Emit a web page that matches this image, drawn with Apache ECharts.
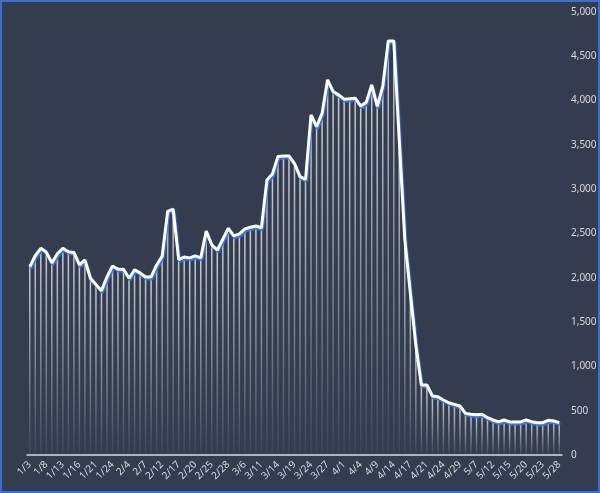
<!DOCTYPE html>
<html>
<head>
<meta charset="utf-8">
<script src="https://cdn.jsdelivr.net/npm/echarts@6/dist/echarts.min.js"></script>
<style>
html,body{margin:0;padding:0;background:#333d4f;}
#chart{width:600px;height:493px;}
</style>
</head>
<body>
<div id="chart"></div>
<script>
var categories = ['1/3','1/6','1/7','1/8','1/9','1/10','1/13','1/14','1/15','1/16','1/17','1/20','1/21','1/22','1/23','1/24','1/31','2/3','2/4','2/5','2/6','2/7','2/10','2/11','2/12','2/13','2/14','2/17','2/18','2/19','2/20','2/21','2/24','2/25','2/26','2/27','2/28','3/2','3/4','3/6','3/9','3/10','3/11','3/12','3/13','3/14','3/17','3/18','3/19','3/20','3/23','3/24','3/25','3/26','3/27','3/30','3/31','4/1','4/2','4/3','4/4','4/7','4/8','4/9','4/10','4/13','4/14','4/15','4/16','4/17','4/18','4/20','4/21','4/22','4/23','4/24','4/27','4/28','4/29','4/30','5/6','5/7','5/8','5/11','5/12','5/13','5/14','5/15','5/18','5/19','5/20','5/21','5/22','5/23','5/26','5/27','5/28'];

var values = [2125,2250,2333,2290,2168,2272,2333,2294,2286,2145,2202,1995,1925,1855,2010,2134,2096,2096,1995,2089,2055,2010,2010,2145,2243,2750,2775,2205,2235,2225,2247,2225,2529,2371,2314,2435,2559,2473,2495,2552,2571,2585,2565,3105,3172,3370,3376,3376,3290,3142,3112,3838,3706,3857,4234,4102,4065,4016,4020,4027,3940,3980,4178,3935,4160,4674,4674,3550,2430,1826,1240,790,790,666,658,621,590,572,553,470,459,455,459,421,395,373,395,373,373,373,395,376,365,365,392,384,365];

var yMin = 0, yMax = 5000, yStep = 500;

var chart = echarts.init(document.getElementById('chart'), null, {renderer:'canvas'});
chart.setOption({
  backgroundColor: '#333d4f',
  animation: false,
  graphic: [{
    type: 'rect', silent: true, z: 100,
    shape: {x: 1, y: 1, width: 598, height: 491},
    style: {fill: 'none', stroke: '#3a6fd6', lineWidth: 2}
  }],
  grid: {left: 27, right: 38, top: 12, bottom: 38, containLabel: false},
  xAxis: {
    type: 'category',
    data: categories,
    boundaryGap: true,
    axisLine: {lineStyle: {color: '#d9d9d9', width: 1.5}},
    axisTick: {show: false},
    axisLabel: {
      interval: 2, rotate: 45, color: '#d9d9d9', fontSize: 10,
      fontFamily: 'Noto Sans', margin: 8
    },
    splitLine: {show: false}
  },
  yAxis: {
    type: 'value',
    position: 'right',
    min: yMin, max: yMax, interval: yStep,
    axisLine: {show: false},
    axisTick: {show: false},
    splitLine: {show: false},
    axisLabel: {
      color: '#d9d9d9', fontSize: 10, fontFamily: 'Noto Sans', margin: 9,
      formatter: function (v) { return v.toLocaleString('en-US'); }
    }
  },
  series: [{
    type: 'bar',
    data: values,
    barWidth: 1.5,
    silent: true,
    itemStyle: {
      color: new echarts.graphic.LinearGradient(0, 0, 0, 1, [
        {offset: 0, color: 'rgba(255,255,255,0.75)'},
        {offset: 1, color: 'rgba(255,255,255,0.04)'}
      ])
    }
  }, {
    type: 'line',
    data: values,
    symbol: 'none',
    z: 5,
    lineStyle: {
      color: '#ffffff', width: 3,
      shadowColor: '#3d72e0', shadowBlur: 1, shadowOffsetX: 1, shadowOffsetY: 2
    }
  }]
});
</script>
</body>
</html>
